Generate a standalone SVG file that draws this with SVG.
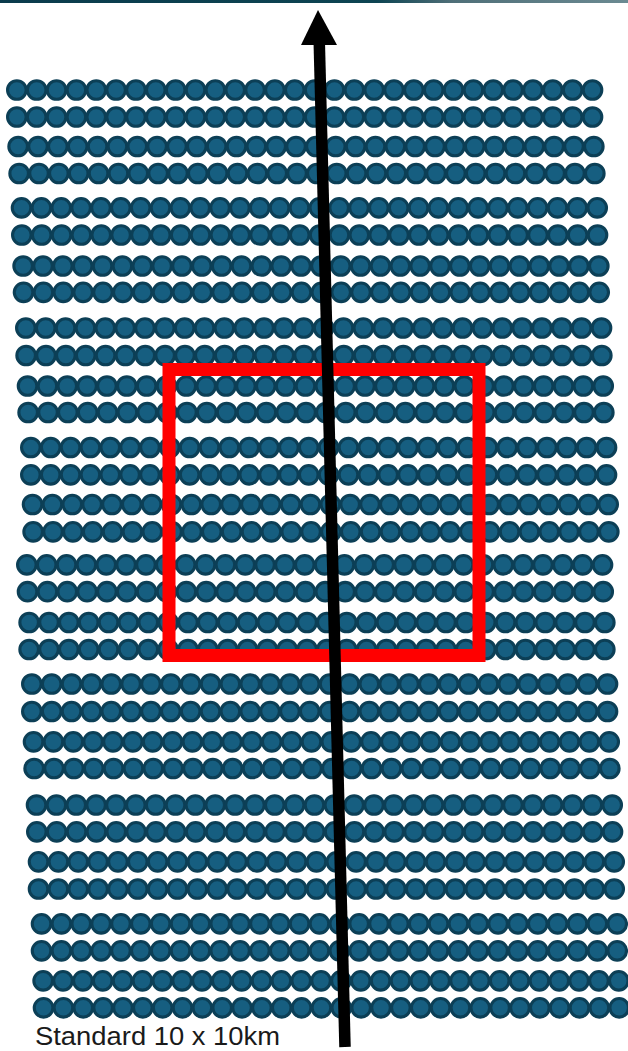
<svg xmlns="http://www.w3.org/2000/svg" xmlns:xlink="http://www.w3.org/1999/xlink" width="628" height="1051" viewBox="0 0 628 1051">
<style>
.dot{fill:#165e80;stroke:#0c3f56;stroke-width:3.1}
.frame{fill:none;stroke:#ff0000;stroke-width:13}
.label{font-family:"Liberation Sans",Arial,sans-serif;font-size:25px;fill:#1a1a1a}
</style>
<defs>
<linearGradient id="band" x1="0" y1="0" x2="1" y2="0">
<stop offset="0" stop-color="#0a3b4c"/>
<stop offset="0.6" stop-color="#0d4452"/>
<stop offset="0.72" stop-color="#4f6f78"/>
<stop offset="1" stop-color="#6b8a92"/>
</linearGradient>
<circle id="c" r="9.3" class="dot"/>
<g id="row">
<use xlink:href="#c" x="0"/><use xlink:href="#c" x="19.85"/><use xlink:href="#c" x="39.7"/><use xlink:href="#c" x="59.55"/><use xlink:href="#c" x="79.4"/>
<use xlink:href="#c" x="99.25"/><use xlink:href="#c" x="119.1"/><use xlink:href="#c" x="138.95"/><use xlink:href="#c" x="158.8"/><use xlink:href="#c" x="178.65"/>
<use xlink:href="#c" x="198.5"/><use xlink:href="#c" x="218.35"/><use xlink:href="#c" x="238.2"/><use xlink:href="#c" x="258.05"/><use xlink:href="#c" x="277.9"/>
<use xlink:href="#c" x="297.75"/><use xlink:href="#c" x="317.6"/><use xlink:href="#c" x="337.45"/><use xlink:href="#c" x="357.3"/><use xlink:href="#c" x="377.15"/>
<use xlink:href="#c" x="397"/><use xlink:href="#c" x="416.85"/><use xlink:href="#c" x="436.7"/><use xlink:href="#c" x="456.55"/><use xlink:href="#c" x="476.4"/>
<use xlink:href="#c" x="496.25"/><use xlink:href="#c" x="516.1"/><use xlink:href="#c" x="535.95"/><use xlink:href="#c" x="555.8"/><use xlink:href="#c" x="575.65"/>
</g>
</defs>
<rect x="0" y="0" width="628" height="3" fill="url(#band)"/>
<g id="dots">
<use xlink:href="#row" x="16.85" y="90"/>
<use xlink:href="#row" x="16.85" y="117"/>
<use xlink:href="#row" x="18.15" y="146.5"/>
<use xlink:href="#row" x="19.15" y="173.5"/>
<use xlink:href="#row" x="21.55" y="207.8"/>
<use xlink:href="#row" x="21.85" y="235"/>
<use xlink:href="#row" x="23.15" y="266"/>
<use xlink:href="#row" x="23.55" y="292.3"/>
<use xlink:href="#row" x="25.85" y="328"/>
<use xlink:href="#row" x="26.15" y="355.5"/>
<use xlink:href="#row" x="27.55" y="386"/>
<use xlink:href="#row" x="28.15" y="412.5"/>
<use xlink:href="#row" x="30.85" y="447.5"/>
<use xlink:href="#row" x="30.85" y="474.8"/>
<use xlink:href="#row" x="32.55" y="504.5"/>
<use xlink:href="#row" x="33.15" y="531.8"/>
<use xlink:href="#row" x="26.85" y="564.8"/>
<use xlink:href="#row" x="27.55" y="591.7"/>
<use xlink:href="#row" x="29.15" y="622.5"/>
<use xlink:href="#row" x="29.15" y="649.5"/>
<use xlink:href="#row" x="31.85" y="684"/>
<use xlink:href="#row" x="31.85" y="711.5"/>
<use xlink:href="#row" x="33.55" y="741.8"/>
<use xlink:href="#row" x="34.15" y="768.5"/>
<use xlink:href="#row" x="36.55" y="805"/>
<use xlink:href="#row" x="36.85" y="831.8"/>
<use xlink:href="#row" x="38.55" y="861.8"/>
<use xlink:href="#row" x="38.55" y="889"/>
<use xlink:href="#row" x="41.55" y="923.8"/>
<use xlink:href="#row" x="41.55" y="950.8"/>
<use xlink:href="#row" x="43.15" y="980.8"/>
<use xlink:href="#row" x="43.55" y="1007.8"/>
</g>
<g id="area">
<rect class="frame" x="169" y="369.5" width="310" height="286"/>
</g>
<g id="connectors">
<line x1="345" y1="1047" x2="319.2" y2="40" stroke="#000" stroke-width="11.5"/>
<polygon points="318,10 337,45 301,45" fill="#000"/>
</g>
<g id="caption">
<text class="label" x="35" y="1045" textLength="245" lengthAdjust="spacingAndGlyphs">Standard 10 x 10km</text>
</g>
</svg>
